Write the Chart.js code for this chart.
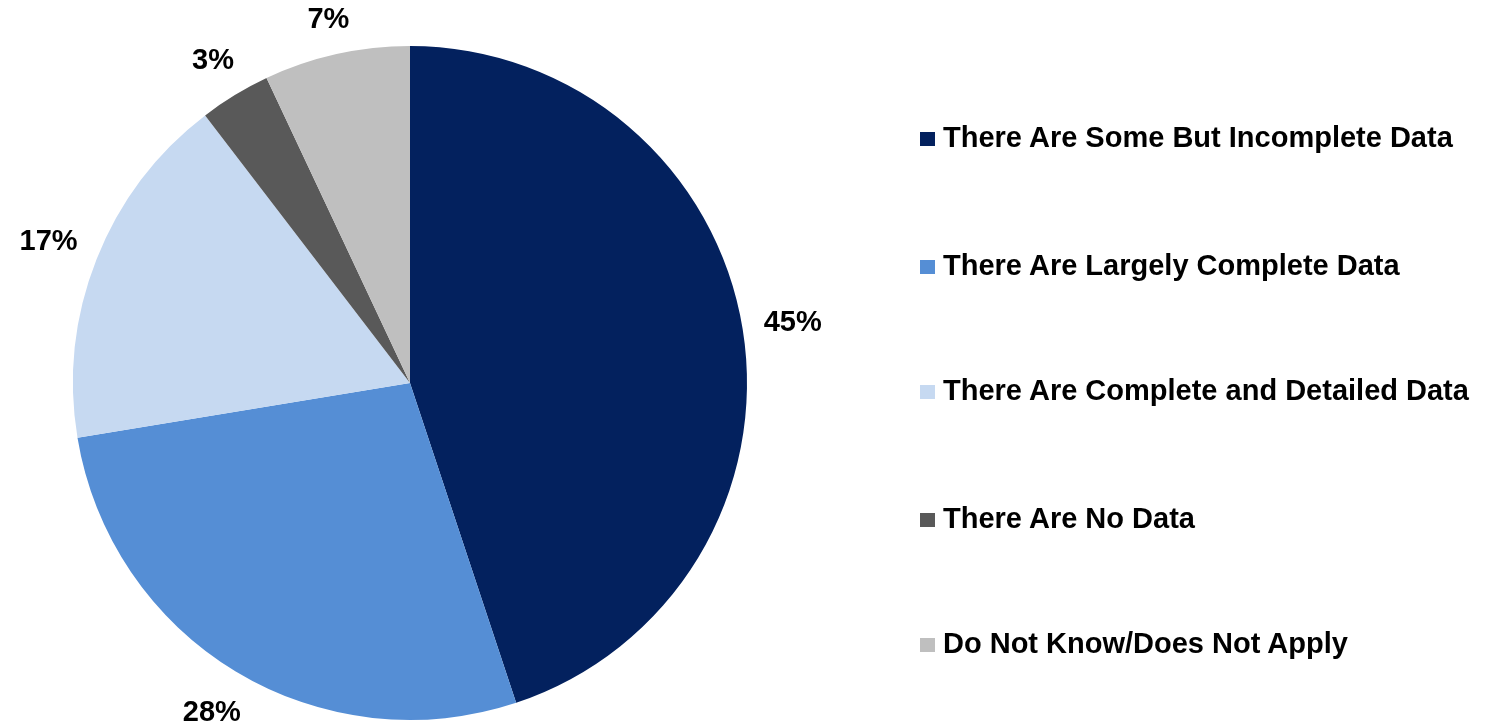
<!DOCTYPE html>
<html>
<head>
<meta charset="utf-8">
<script src="https://cdn.jsdelivr.net/npm/chart.js@4"></script>
<style>
html, body { margin: 0; padding: 0; background: #fff; }
#wrap { position: relative; width: 1487px; height: 721px; }
#legend { position: absolute; left: 920px; top: 0; font-family: "Liberation Sans", Arial, sans-serif; font-weight: bold; font-size: 29px; color: #000; }
.item { position: absolute; left: 0; white-space: nowrap; line-height: 30px; }
.box { display: inline-block; width: 15px; height: 14px; margin-right: 8px; vertical-align: 1px; }
</style>
</head>
<body>
<div id="wrap">
<canvas id="c" width="1487" height="721"></canvas>
<div id="legend"></div>
</div>
<script>
var labels = ["There Are Some But Incomplete Data", "There Are Largely Complete Data", "There Are Complete and Detailed Data", "There Are No Data", "Do Not Know/Does Not Apply"];
var values = [44.9, 27.5, 17.2, 3.4, 7.0];
var colors = ["#03215E", "#558ED5", "#C6D9F1", "#595959", "#BFBFBF"];
var legendTops = [122, 250, 375, 503, 628];

var legend = document.getElementById("legend");
labels.forEach(function(l, i) {
	var d = document.createElement("div");
	d.className = "item";
	d.style.top = legendTops[i] + "px";
	d.innerHTML = '<span class="box" style="background:' + colors[i] + '"></span>' + l;
	legend.appendChild(d);
});

// percent labels just outside each slice
var outsideLabels = {
	id: "outsideLabels",
	afterDatasetsDraw: function(chart) {
		var ctx = chart.ctx;
		var meta = chart.getDatasetMeta(0);
		ctx.save();
		ctx.font = "bold 29px 'Liberation Sans', Arial, sans-serif";
		ctx.fillStyle = "#000";
		ctx.textAlign = "center";
		ctx.textBaseline = "middle";
		meta.data.forEach(function(arc, i) {
			var p = arc.getProps(["x", "y", "startAngle", "endAngle", "outerRadius"], true);
			var a = (p.startAngle + p.endAngle) / 2;
			var txt = Math.round(values[i]) + "%";
			var w = ctx.measureText(txt).width;
			var h = 26;
			var cx = Math.cos(a), sy = Math.sin(a);
			var ext = Math.abs(cx) * w / 2 + Math.abs(sy) * h / 2;
			var r = p.outerRadius + 20 + ext;
			ctx.fillText(txt, p.x + cx * r, p.y + sy * r + 2);
		});
		ctx.restore();
	}
};

new Chart(document.getElementById("c"), {
	type: "pie",
	data: {
		labels: labels,
		datasets: [{ data: values, backgroundColor: colors, borderWidth: 0 }]
	},
	options: {
		responsive: false,
		animation: false,
		layout: { padding: { left: 73, right: 740, top: 46, bottom: 1 } },
		plugins: { legend: { display: false }, tooltip: { enabled: false } }
	},
	plugins: [outsideLabels]
});
</script>
</body>
</html>
